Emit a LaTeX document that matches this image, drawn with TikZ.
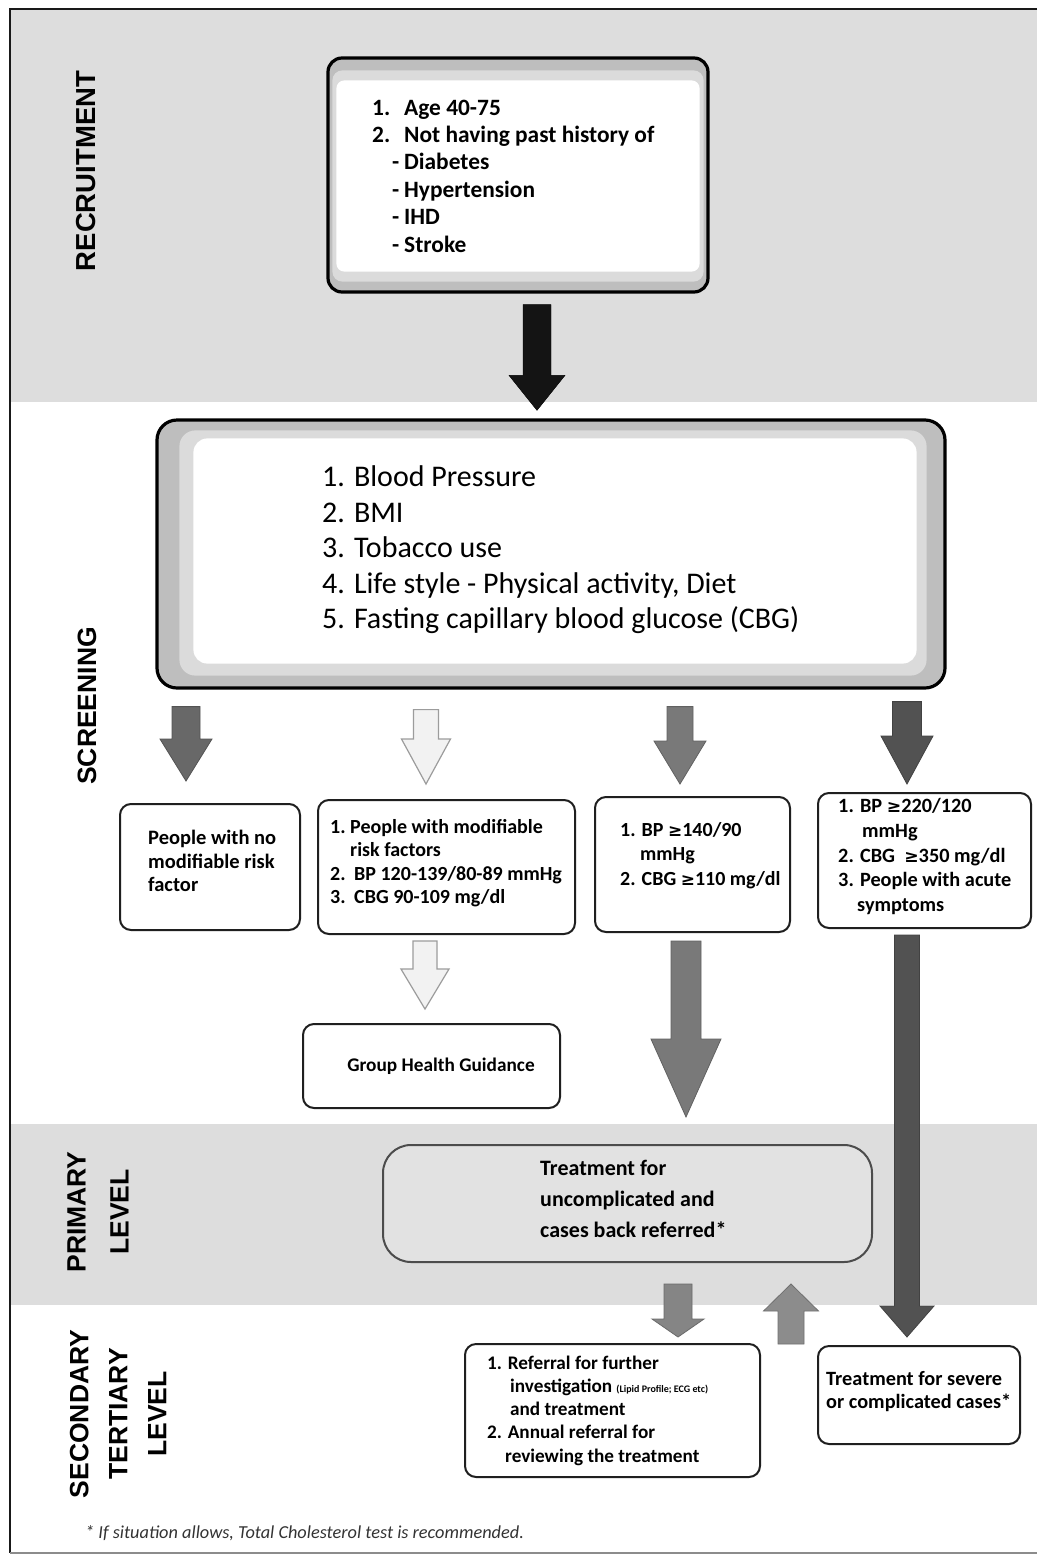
\documentclass[tikz,border=0pt]{standalone}
\usepackage{fontspec}
\setmainfont{Carlito}
\newfontfamily\bandfont{Liberation Sans}
\newfontfamily\mathsymfont{DejaVu Sans}[Scale=0.85]
\usetikzlibrary{calc}

\definecolor{bandgray}{HTML}{DDDDDD}
\definecolor{rimgray}{HTML}{BEBEBE}
\definecolor{softgray}{HTML}{E2E2E2}
\definecolor{arrA}{HTML}{686868}
\definecolor{arrB}{HTML}{797979}
\definecolor{arrC}{HTML}{525252}
\definecolor{arrD}{HTML}{858585}
\definecolor{arrE}{HTML}{8C8C8C}
\definecolor{arrLight}{HTML}{F2F2F2}
\definecolor{arrLightEdge}{HTML}{9C9C9C}

\newcommand\gesign{{\mathsymfont ≥}}

% vertical block arrow: style, from, to, half shaft width, half head width, head length
\newcommand\blockarrow[6]{%
  \path[#1] let \p1=#2, \p2=#3, \n1={((\y1)>(\y2))*2-1} in
    (\x1-#4,\y1) -- (\x1+#4,\y1) -- (\x1+#4,\y2+\n1*#6) -- (\x1+#5,\y2+\n1*#6)
    -- (\x1,\y2) -- (\x1-#5,\y2+\n1*#6) -- (\x1-#4,\y2+\n1*#6) -- cycle;}

\begin{document}
\begin{tikzpicture}[x=1pt,y=-1pt,
  box/.style={draw=black!88, line width=2, rounded corners=11, fill=white, inner sep=0},
  bigbox/.style={draw=black, line width=3.2, fill=rimgray, inner sep=0},
  primbox/.style={draw=black!70, line width=2, rounded corners=28, fill=softgray, inner sep=0},
  txt/.style={align=left, inner sep=0, anchor=west, font=\bfseries\fontsize{20.5}{23.5}\selectfont},
  bandlabel/.style={rotate=90, align=center, inner sep=0, font=\bandfont\bfseries\fontsize{26.5}{39}\selectfont},
  blackarr/.style={fill=black!92, draw=black},
  grayarr/.style={fill=#1, draw=#1!80!black, line width=0.8},
  lightarr/.style={fill=arrLight, draw=arrLightEdge, line width=1.2}]

\useasboundingbox (0,0) rectangle (1042,1559);
\fill[white] (0,0) rectangle (1042,1559);

% level bands
\fill[bandgray] (10,10) rectangle (1037,402);
\fill[bandgray] (10,1124) rectangle (1037,1305);

% outer frame
\draw[line width=2.4, black!90] (1037,9) -- (10,9) -- (10,1553);
\draw[line width=1.2, black!45] (10,1553) -- (1037,1553);

% level labels
\node[bandlabel, font=\bandfont\bfseries\fontsize{27.5}{39}\selectfont] (lrec) at (86,171) {RECRUITMENT};
\node[bandlabel] (lscr) at (87,706) {SCREENING};
\node[bandlabel, font=\bandfont\bfseries\fontsize{26.5}{43}\selectfont] (lprim) at (98,1212) {PRIMARY\\LEVEL};
\node[bandlabel] (lsec) at (118,1414) {SECONDARY\\TERTIARY\\LEVEL};

% recruitment criteria
\node[bigbox, rounded corners=14, minimum width=380, minimum height=234] (rec) at (518,175) {};
\fill[white!45!rimgray, rounded corners=10] ($(rec.south west)+(6,-12)$) rectangle ($(rec.north east)+(-6,14)$);
\fill[white, rounded corners=8] ($(rec.south west)+(10,-22)$) rectangle ($(rec.north east)+(-10,24)$);
\node[txt, font=\bfseries\fontsize{23.4}{27.4}\selectfont] (rectxt) at (372,176)
  {\makebox[32pt][l]{1.}Age 40-75\\
   \makebox[32pt][l]{2.}Not having past history of\\
   \makebox[32pt][r]{-\hspace{5pt}}Diabetes\\
   \makebox[32pt][r]{-\hspace{5pt}}Hypertension\\
   \makebox[32pt][r]{-\hspace{5pt}}IHD\\
   \makebox[32pt][r]{-\hspace{5pt}}Stroke};

% screening items
\node[bigbox, rounded corners=20, minimum width=788, minimum height=268] (scr) at (551,554) {};
\fill[white!45!rimgray, rounded corners=16] ($(scr.south west)+(24,-14)$) rectangle ($(scr.north east)+(-20,12)$);
\fill[white, rounded corners=14] ($(scr.south west)+(38,-26)$) rectangle ($(scr.north east)+(-30,20)$);
\node[txt, font=\fontsize{30}{35.5}\selectfont] (scrtxt) at (322,550)
  {1. Blood Pressure\\
   2. BMI\\
   3. Tobacco use\\
   4. Life style - Physical activity, Diet\\
   5. Fasting capillary blood glucose (CBG)};

% screening outcome groups
\node[box, minimum width=180, minimum height=126] (b1) at (210,867) {};
\node[txt] (b1txt) at (148,861) {People with no\\modifiable risk\\factor};

\node[box, minimum width=257, minimum height=134] (b2) at (446.5,867) {};
\node[txt, font=\bfseries\fontsize{20}{23.3}\selectfont] (b2txt) at (330,863)
  {\makebox[20pt][l]{1.}People with modifiable\\
   \hspace*{20pt}risk factors\\
   \makebox[24pt][l]{2.}BP 120-139/80-89 mmHg\\
   \makebox[24pt][l]{3.}CBG 90-109 mg/dl};

\node[box, minimum width=195, minimum height=135] (b3) at (692.5,864.5) {};
\node[txt, font=\bfseries\fontsize{20}{24.5}\selectfont] (b3txt) at (620,855.5)
  {1. BP \gesign140/90\\
   \hspace*{20pt}mmHg\\
   2. CBG \gesign110 mg/dl};

\node[box, minimum width=213, minimum height=135] (b4) at (924.5,860.5) {};
\node[txt, font=\bfseries\fontsize{20.3}{24.75}\selectfont] (b4txt) at (838,856.5)
  {1. BP \gesign220/120\\
   \hspace*{24pt}mmHg\\
   2. CBG \ \gesign350 mg/dl\\
   3. People with acute\\
   \hspace*{19pt}symptoms};

\node[box, minimum width=257, minimum height=84] (ghg) at (431.5,1066) {};
\node[txt, anchor=center, font=\bfseries\fontsize{19.3}{22}\selectfont] (ghgtxt) at (441,1066) {Group Health Guidance};

% primary level
\node[primbox, minimum width=489, minimum height=117] (prim) at (627.5,1203.5) {};
\node[txt, font=\bfseries\fontsize{22}{31}\selectfont] (primtxt) at (540,1199)
  {Treatment for\\uncomplicated and\\cases back referred*};

% secondary / tertiary level
\node[box, minimum width=295, minimum height=133] (sec) at (612.5,1410.5) {};
\node[txt, font=\bfseries\fontsize{19.2}{23.25}\selectfont] (sectxt) at (487,1410.5)
  {1. Referral for further\\
   \hspace*{23pt}investigation {\fontsize{10}{10}\selectfont(Lipid Profile; ECG etc)}\\
   \hspace*{23pt}and treatment\\
   2. Annual referral for\\
   \hspace*{18pt}reviewing the treatment};

\node[box, minimum width=202, minimum height=98] (sev) at (919,1395) {};
\node[txt, font=\bfseries\fontsize{20.3}{23}\selectfont] (sevtxt) at (826,1391.5)
  {Treatment for severe\\or complicated cases*};

% footnote
\node[txt, font=\itshape\fontsize{18.3}{20}\selectfont, text=black!80] (note) at (85,1533)
  {* If situation allows, Total Cholesterol test is recommended.};

% flow arrows
\blockarrow{blackarr}{($(rec.south)+(19,11)$)}{($(scr.north)+(-14,-8)$)}{14}{28}{35}
\blockarrow{grayarr=arrA}{($(scr.south)+(-365,17)$)}{($(b1.north)+(-24,-22)$)}{14}{26}{42}
\blockarrow{lightarr}{($(scr.south)+(-125,20)$)}{($(b2.north)+(-20.5,-15)$)}{12.5}{24.5}{45}
\blockarrow{grayarr=arrB}{($(scr.south)+(129,17)$)}{($(b3.north)+(-12.5,-12)$)}{13}{26}{43}
\blockarrow{grayarr=arrC}{($(scr.south)+(356,12)$)}{($(b4.north)+(-17.5,-8)$)}{14.5}{26}{48}
\blockarrow{lightarr}{($(b2.south)+(-21.5,6)$)}{($(ghg.north)+(-6.5,-14)$)}{12}{24}{40}
\blockarrow{grayarr=arrB}{($(b3.south)+(-6.5,8)$)}{($(prim.north)+(58.5,-27)$)}{15}{35}{78}
\blockarrow{grayarr=arrC}{($(b4.south)+(-17.5,6)$)}{($(sev.north)+(-12,-8)$)}{12.5}{27}{31}
\blockarrow{grayarr=arrD}{($(prim.south)+(50.5,21)$)}{($(sec.north)+(65.5,-6)$)}{14}{26}{18}
\blockarrow{grayarr=arrE}{($(sec.north east)+(30,1)$)}{($(prim.south)+(162.5,21)$)}{13}{27.5}{27}

\end{tikzpicture}
\end{document}
